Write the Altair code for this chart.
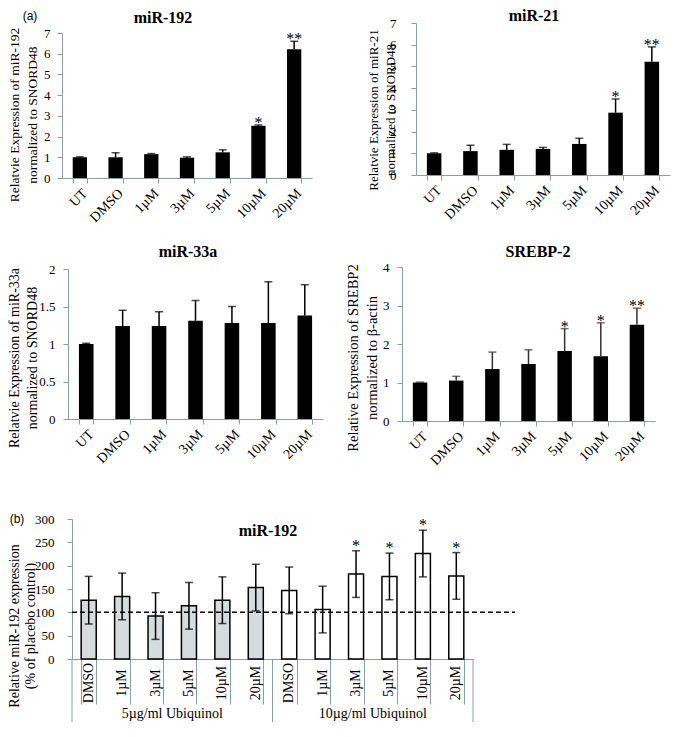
import altair as alt
import pandas as pd

# ---------------- data ----------------
cats = ["UT", "DMSO", "1µM", "3µM", "5µM", "10µM", "20µM"]

mir192_vals = [1.0, 1.0, 1.15, 0.98, 1.24, 2.52, 6.22]
mir192_err = [0.02, 0.22, 0.03, 0.04, 0.12, 0.04, 0.38]
mir192_sig = ["", "", "", "", "", "*", "**"]

mir21_vals = [1.0, 1.1, 1.16, 1.2, 1.43, 2.87, 5.22]
mir21_err = [0.02, 0.27, 0.25, 0.07, 0.26, 0.63, 0.68]
mir21_sig = ["", "", "", "", "", "*", "**"]

mir33_vals = [1.0, 1.24, 1.24, 1.31, 1.28, 1.28, 1.38]
mir33_err = [0.01, 0.21, 0.19, 0.27, 0.22, 0.55, 0.41]
mir33_sig = ["", "", "", "", "", "", ""]

srebp_vals = [1.0, 1.05, 1.35, 1.48, 1.82, 1.68, 2.5]
srebp_err = [0.01, 0.11, 0.44, 0.37, 0.58, 0.87, 0.43]
srebp_sig = ["", "", "", "", "*", "*", "**"]

b_doses = ["DMSO", "1µM", "3µM", "5µM", "10µM", "20µM"]
b_groups = ["5µg/ml Ubiquinol", "10µg/ml Ubiquinol"]
b_vals_5 = [126, 134, 92, 114, 126, 153]
b_err_5 = [51, 50, 50, 50, 50, 50]
b_vals_10 = [147, 106, 182, 177, 226, 178]
b_err_10 = [50, 50, 50, 50, 50, 50]
b_sig_5 = ["", "", "", "", "", ""]
b_sig_10 = ["", "", "*", "*", "*", "*"]
ref_level = [100]

# ---------------- layout / style ----------------
W, H = 664, 714
AXC = "#8c9ea5"
SERIF = "Liberation Serif"
SANS = "Liberation Sans"
PI_A = 0.6
PI_B = 0.55
XR_B = [64, 465]
GAP_B = (XR_B[1] - XR_B[0]) / 12 * PI_B / 2   # half of the inner padding, px


def yaxis(xpix, values, pad, fmt):
    return alt.Axis(orient="left", offset=-xpix, values=values, format=fmt, grid=False,
                    domainColor=AXC, tickColor=AXC, tickSize=5, labelPadding=pad,
                    labelFont=SERIF, labelFontSize=13, labelColor="black", labelOverlap=False)


def xaxis_a(ypix):
    return alt.Axis(orient="bottom", offset=ypix - H, tickBand="extent", tickSize=5,
                    domainColor=AXC, tickColor=AXC, labelAngle=-45, labelFont=SERIF,
                    labelFontSize=14, labelColor="black", labelPadding=3, labelOverlap=False,
                    grid=False)


def panel_a(vals, errs, sig, xr, yr, ymax, yvals, ypad, fmt, ecolor, dy):
    df = pd.DataFrame({"cat": cats, "v": vals,
                       "top": [round(v + e, 3) for v, e in zip(vals, errs)], "sig": sig})
    xs = alt.Scale(domain=cats, range=xr, paddingInner=PI_A, paddingOuter=PI_A / 2)
    ys = alt.Scale(domain=[0, ymax], range=yr, nice=False)
    X = alt.X("cat:N", scale=xs, axis=xaxis_a(yr[0]), title=None)
    ya = yaxis(xr[0], yvals, ypad, fmt)
    base = alt.Chart(df)
    bars = base.mark_bar(color="black").encode(
        x=X, y=alt.Y("v:Q", scale=ys, axis=ya, title=None))
    err = base.mark_rule(color=ecolor, strokeWidth=1.5).encode(
        x=X, y=alt.Y("v:Q", scale=ys, axis=ya, title=None), y2="top:Q")
    cap = base.mark_tick(color=ecolor, thickness=1.5, size=8).encode(
        x=X, y=alt.Y("top:Q", scale=ys, axis=ya, title=None))
    stars = base.mark_text(font=SERIF, fontSize=16, fill="black", baseline="alphabetic",
                           align="center", dy=dy).encode(
        x=X, y=alt.Y("top:Q", scale=ys, axis=ya, title=None), text="sig:N")
    return alt.layer(bars, err, cap, stars)


def label(text, x, y, size, bold=False, font=SERIF, angle=0, lh=None):
    kw = dict(text=text, font=font, fontSize=size, fontWeight="bold" if bold else "normal",
              align="center", baseline="middle", fill="black", angle=angle)
    if lh is not None:
        kw["lineHeight"] = lh
    return alt.Chart(alt.Data(values=[{}])).mark_text(**kw).encode(
        x=alt.value(x), y=alt.value(y))


p1 = panel_a(mir192_vals, mir192_err, mir192_sig, [54, 304], [170, 25], 7,
             list(range(0, 8)), 7, "d", "black", 3)
p2 = panel_a(mir21_vals, mir21_err, mir21_sig, [408, 662], [167, 15], 7,
             list(range(0, 8)), 15, "d", "black", 3)
p3 = panel_a(mir33_vals, mir33_err, mir33_sig, [60, 315], [411, 261], 2,
             [0, 0.5, 1, 1.5, 2], 8, ".2~f", "black", 3)
p4 = panel_a(srebp_vals, srebp_err, srebp_sig, [394, 647], [413, 259], 4,
             [0, 1, 2, 3, 4], 8, "d", "#333333", 3)

# ---------------- panel (b) ----------------
b_keys = [f"{g}|{d}" for g in b_groups for d in b_doses]
vals_b = b_vals_5 + b_vals_10
errs_b = b_err_5 + b_err_10
dfb = pd.DataFrame({
    "key": b_keys,
    "dose": b_doses * 2,
    "group": [g for g in b_groups for _ in b_doses],
    "v": vals_b,
    "lo": [v - e for v, e in zip(vals_b, errs_b)],
    "hi": [v + e for v, e in zip(vals_b, errs_b)],
    "sig": b_sig_5 + b_sig_10,
})
xs_b = alt.Scale(domain=b_keys, range=XR_B, paddingInner=PI_B, paddingOuter=PI_B / 2)
ys_b = alt.Scale(domain=[0, 300], range=[651, 511], nice=False)
xa_b = alt.Axis(orient="bottom", offset=651 - H, tickBand="extent", tickSize=45,
                domainColor=AXC, tickColor=AXC, labels=False, grid=False)
ya_b = yaxis(64, [0, 50, 100, 150, 200, 250, 300], 13, "d")
XB = alt.X("key:N", scale=xs_b, axis=xa_b, title=None)


def YB(field):
    return alt.Y(field, scale=ys_b, axis=ya_b, title=None)


base_b = alt.Chart(dfb)
bars_b = base_b.mark_bar(stroke="black", strokeWidth=1.5).encode(
    x=XB, y=YB("v:Q"),
    color=alt.condition(alt.datum.group == b_groups[0], alt.value("#d6dcdd"), alt.value("white")))
ref_b = alt.Chart(pd.DataFrame({"ref": ref_level})).mark_rule(
    color="black", strokeWidth=1.5, strokeDash=[5, 3]).encode(
    y=YB("ref:Q"), x=alt.value(64), x2=alt.value(507))
err_b = base_b.mark_rule(color="black", strokeWidth=1.5).encode(x=XB, y=YB("lo:Q"), y2="hi:Q")
caplo_b = base_b.mark_tick(color="black", thickness=1.5, size=8).encode(x=XB, y=YB("lo:Q"))
caphi_b = base_b.mark_tick(color="black", thickness=1.5, size=8).encode(x=XB, y=YB("hi:Q"))
stars_b = base_b.mark_text(font=SERIF, fontSize=16, fill="black", baseline="alphabetic",
                           align="center", dy=0).encode(x=XB, y=YB("hi:Q"), text="sig:N")
catlab_b = base_b.mark_text(font=SERIF, fontSize=14, fill="black", angle=270,
                            align="center", baseline="middle").encode(
    x=XB, y=alt.value(675), text="dose:N")
sepl_b = alt.Chart(pd.DataFrame({"key": [b_keys[0], b_keys[6]]})).mark_rule(
    color=AXC, strokeWidth=1, xOffset=-GAP_B).encode(
    x=alt.X("key:N", scale=xs_b, axis=xa_b, title=None, bandPosition=0),
    y=alt.value(651), y2=alt.value(714))
sepr_b = alt.Chart(pd.DataFrame({"key": [b_keys[-1]]})).mark_rule(
    color=AXC, strokeWidth=1, xOffset=GAP_B).encode(
    x=alt.X("key:N", scale=xs_b, axis=xa_b, title=None, bandPosition=1),
    y=alt.value(651), y2=alt.value(714))
grplab_b = alt.Chart(pd.DataFrame({"key": [b_keys[2], b_keys[8]], "g": b_groups})).mark_text(
    font=SERIF, fontSize=14, fill="black", align="center", baseline="middle", dx=GAP_B).encode(
    x=alt.X("key:N", scale=xs_b, axis=xa_b, title=None, bandPosition=1),
    y=alt.value(706), text="g:N")

p5 = alt.layer(bars_b, ref_b, err_b, caplo_b, caphi_b, stars_b, catlab_b, sepl_b, sepr_b, grplab_b)

# multi-line rotated titles: anchor is the first line, next line goes to the right
texts = [
    label("(a)", 22, 8, 12, font=SANS),
    label("miR-192", 155, 10, 16, bold=True),
    label("miR-21", 526, 8, 16, bold=True),
    label("miR-33a", 180, 244, 16, bold=True),
    label("SREBP-2", 530, 244, 16, bold=True),
    label("(b)", 9, 511, 12, font=SANS),
    label("miR-192", 260, 523, 16, bold=True),
    label(["Relatvie Expression of miR-192", "normalized to SNORD48"], 7, 107, 13.5, angle=270, lh=18),
    label(["Relatvie Expression of miR-21", "normalized to SNORD48"], 366, 102, 13, angle=270, lh=17),
    label(["Relatvie Expression of miR-33a", "normalized to SNORD48"], 7, 350, 14, angle=270, lh=18),
    label(["Relative Expression of SREBP2", "normalized to β-actin"], 346, 350, 14.5, angle=270, lh=19),
    label(["Relative miR-192 expression", "(% of placebo control)"], 7, 618, 14, angle=270, lh=16),
]

chart = alt.layer(p1, p2, p3, p4, p5, *texts).resolve_scale(
    x="independent", y="independent"
).properties(
    width=W, height=H, padding=0, autosize=alt.AutoSizeParams(type="none")
).configure_view(stroke=None).configure_axis(
    labelFont=SERIF, titleFont=SERIF
).configure_text(font=SERIF)

chart.save("out.html", embed_options={"renderer": "svg", "actions": False})
